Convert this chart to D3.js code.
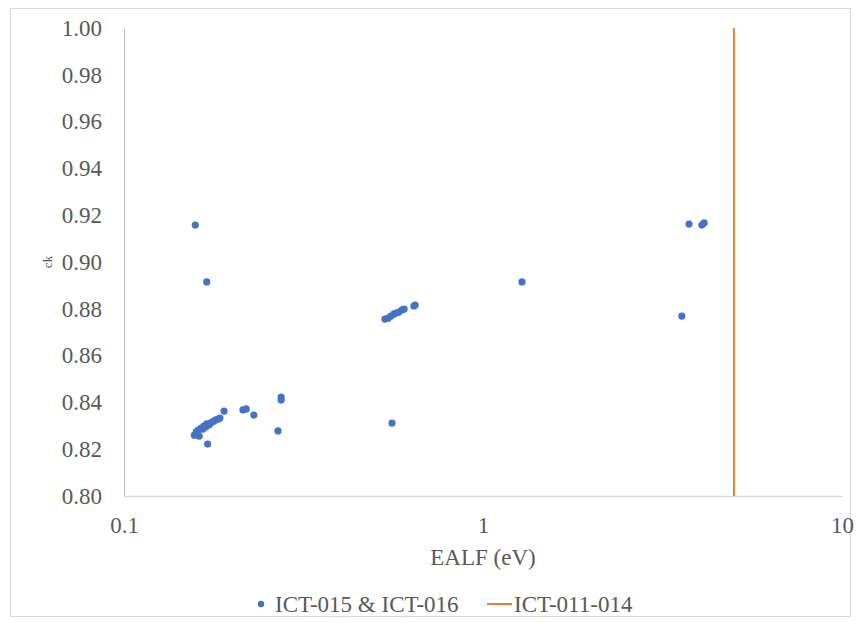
<!DOCTYPE html>
<html>
<head>
<meta charset="utf-8">
<script src="https://cdn.jsdelivr.net/npm/d3@7"></script>
<style>
  body { margin: 0; background: #fff; }
  svg, svg text { font-family: "Times New Roman", "Liberation Serif", Tinos, "DejaVu Serif", serif !important; }
</style>
</head>
<body>
<div id="chart"></div>
<script>
// ICT-015 & ICT-016 : [EALF (eV), ck]
const ictPoints = [
    [0.158, 0.9158], [0.170, 0.8915],
    [0.157, 0.8260], [0.159, 0.8274], [0.161, 0.8282], [0.162, 0.8256],
    [0.164, 0.8290], [0.166, 0.8286], [0.167, 0.8299], [0.169, 0.8295],
    [0.170, 0.8308], [0.1725, 0.8303], [0.174, 0.8312], [0.176, 0.8316],
    [0.178, 0.8320], [0.180, 0.8325], [0.183, 0.8329], [0.185, 0.8333],
    [0.190, 0.8363], [0.171, 0.8222],
    [0.2145, 0.8368], [0.219, 0.8372], [0.230, 0.8346],
    [0.274, 0.8423], [0.274, 0.8410], [0.2685, 0.8278], [0.558, 0.8312],
    [0.533, 0.8756], [0.544, 0.8760], [0.554, 0.8769], [0.565, 0.8778],
    [0.573, 0.8782], [0.583, 0.8786], [0.595, 0.8795], [0.603, 0.8799],
    [0.642, 0.8812], [0.647, 0.8816],
    [1.284, 0.8915], [3.75, 0.9162], [4.07, 0.9158], [4.13, 0.9167], [3.58, 0.8769]
];
// ICT-011-014 : vertical line
const ictLine = [[5.0, 0.80], [5.0, 1.00]];

const xTicks = [0.1, 1, 10];
const yTicks = [0.80, 0.82, 0.84, 0.86, 0.88, 0.90, 0.92, 0.94, 0.96, 0.98, 1.00];
const seriesNames = ["ICT-015 & ICT-016", "ICT-011-014"];
const colors = ["#4472C4", "#ED7D31"];

let width = 856, height = 623;
let margin = { top: 28, right: 14, bottom: 127, left: 124 };
let serif = '"Times New Roman", "Liberation Serif", Tinos, "DejaVu Serif", serif';

let svg = d3.select("#chart")
    .append("svg")
    .attr("width", width)
    .attr("height", height);

// chart border
svg.append("rect")
    .attr("x", 10.5).attr("y", 8.5)
    .attr("width", 840).attr("height", 608)
    .attr("fill", "none")
    .attr("stroke", "#d9d9d9");

let x = d3.scaleLog().domain([0.1, 10]).range([margin.left, width - margin.right]);
let y = d3.scaleLinear().domain([0.80, 1.00]).range([height - margin.bottom, margin.top]);

// x axis
let xAxis = svg.append("g")
    .attr("transform", `translate(0,${y(0.80)})`)
    .call(d3.axisBottom(x).tickValues(xTicks).tickFormat(d3.format("")).tickSize(0).tickPadding(21));
xAxis.attr("font-family", serif);
xAxis.select(".domain").attr("stroke", "#d9d9d9").attr("stroke-width", 1.5);
xAxis.selectAll("text")
    .attr("font-size", "23px")
    .attr("fill", "#595959");

// y axis
let yAxis = svg.append("g")
    .attr("transform", `translate(${x(0.1)},0)`)
    .call(d3.axisLeft(y).tickValues(yTicks).tickFormat(d3.format(".2f")).tickSize(0).tickPadding(22));
yAxis.attr("font-family", serif);
yAxis.select(".domain").attr("stroke", "#bfbfbf").attr("stroke-width", 1);
yAxis.selectAll("text")
    .attr("font-size", "23px")
    .attr("fill", "#595959");

// axis titles
svg.append("text")
    .attr("x", x(1))
    .attr("y", 565)
    .attr("text-anchor", "middle")
    .attr("font-size", "23px")
    .attr("fill", "#595959")
    .text("EALF (eV)");

svg.append("text")
    .attr("transform", `translate(52,${(y(0.8) + y(1)) / 2}) rotate(-90)`)
    .attr("text-anchor", "middle")
    .attr("font-size", "13px")
    .attr("fill", "#595959")
    .text("ck");

// orange vertical line
svg.append("path")
    .datum(ictLine)
    .attr("d", d3.line().x(d => x(d[0])).y(d => y(d[1])))
    .attr("stroke", colors[1])
    .attr("stroke-width", 2)
    .attr("fill", "none");

// points
svg.selectAll(".dot")
    .data(ictPoints)
    .enter()
    .append("circle")
    .attr("class", "dot")
    .attr("cx", d => x(d[0]))
    .attr("cy", d => y(d[1]))
    .attr("r", 3.6)
    .attr("fill", colors[0]);

// legend
let legend = svg.append("g");
legend.append("circle")
    .attr("cx", 261).attr("cy", 604).attr("r", 3.2)
    .attr("fill", colors[0]);
legend.append("text")
    .attr("x", 275).attr("y", 612)
    .attr("font-size", "23px")
    .attr("fill", "#595959")
    .text(seriesNames[0]);
legend.append("line")
    .attr("x1", 487).attr("x2", 512)
    .attr("y1", 604).attr("y2", 604)
    .attr("stroke", colors[1]).attr("stroke-width", 2);
legend.append("text")
    .attr("x", 514).attr("y", 612)
    .attr("font-size", "23px")
    .attr("fill", "#595959")
    .text(seriesNames[1]);
</script>
</body>
</html>
